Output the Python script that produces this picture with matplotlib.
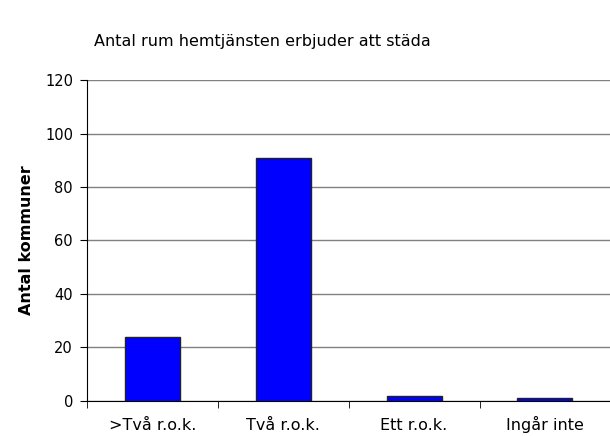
import numpy as np
import matplotlib.pyplot as plt

# data
kategorier = ['>Två r.o.k.', 'Två r.o.k.', 'Ett r.o.k.', 'Ingår inte']
antal = [24, 91, 2, 1]
yticks = [0, 20, 40, 60, 80, 100, 120]

plt.rcParams['font.family'] = ['DejaVu Sans']

fig = plt.figure(figsize=(6.1, 4.36), dpi=100)
ax = fig.add_axes([0.1426, 0.0803, 0.858, 0.7362])

x = np.arange(len(kategorier))
ax.bar(x, antal, width=0.42, color='#0000FF', edgecolor='#222222', linewidth=1, zorder=3)

ax.set_xlim(-0.5, len(kategorier) - 0.5)
ax.set_ylim(0, 120)
ax.set_yticks(yticks)
ax.yaxis.grid(True, color='#808080', linewidth=1)
ax.set_axisbelow(True)

# category labels centred, tick marks between categories
ax.set_xticks(x)
ax.set_xticklabels(kategorier, fontsize=11.5, va='baseline')
ax.tick_params(axis='x', which='major', length=0, pad=21)
ax.set_xticks(np.arange(len(kategorier) + 1) - 0.5, minor=True)
ax.tick_params(axis='x', which='minor', length=5, direction='out', color='black')
ax.tick_params(axis='y', length=5, direction='out', labelsize=10.5, pad=5)

for s in ['top', 'right']:
    ax.spines[s].set_visible(False)
ax.spines['left'].set_color('black')
ax.spines['bottom'].set_color('black')

ax.set_ylabel('Antal kommuner', fontdict={'family': 'DejaVu Sans', 'size': 11.5,
              'weight': 'bold'}, labelpad=8)
fig.text(0.43, 0.904, 'Antal rum hemtjänsten erbjuder att städa', fontsize=11.5,
         ha='center', va='center')

fig.savefig('out.png', dpi=100)
